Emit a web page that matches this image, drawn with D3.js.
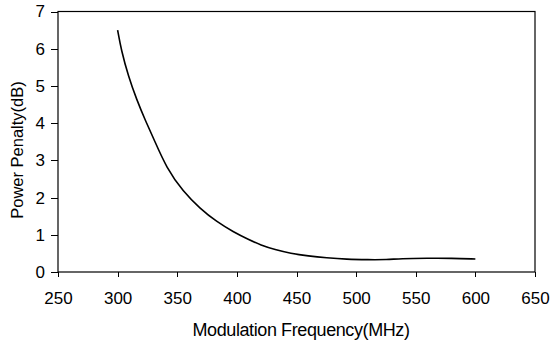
<!DOCTYPE html>
<html>
<head>
  <style>
    body { margin: 0; background: white; }
    text { font-family: "Liberation Sans", Arial, sans-serif; fill: black; }
    .axis path, .axis line { stroke: black; shape-rendering: crispEdges; }
    .curve { fill: none; stroke: black; stroke-width: 1.6; }
  </style>
  <script src="https://d3js.org/d3.v7.min.js"></script>
</head>
<body>
  <div id="chart"></div>
  <script>
    const freq = [300, 303, 309, 316, 323, 330, 341, 355, 369, 383, 397, 410, 420, 432, 445, 460, 475, 492, 510, 526, 537, 560, 580, 600];
    const penalty = [6.5, 5.97, 5.26, 4.63, 4.09, 3.6, 2.79, 2.16, 1.71, 1.35, 1.08, 0.87, 0.72, 0.6, 0.5, 0.43, 0.38, 0.34, 0.33, 0.33, 0.36, 0.37, 0.37, 0.35];
    const xTicks = [250, 300, 350, 400, 450, 500, 550, 600, 650];
    const yTicks = [0, 1, 2, 3, 4, 5, 6, 7];

    const width = 551, height = 342;
    const margin = { top: 11.5, right: 16, bottom: 70, left: 58 };
    const w = width - margin.left - margin.right;
    const h = height - margin.top - margin.bottom;

    const svg = d3.select("#chart").append("svg")
      .attr("width", width).attr("height", height);
    const g = svg.append("g")
      .attr("transform", `translate(${margin.left},${margin.top})`);

    const x = d3.scaleLinear().domain([250, 650]).range([0, w]);
    const y = d3.scaleLinear().domain([0, 7]).range([h, 0]);

    g.append("rect").attr("width", w).attr("height", h)
      .attr("fill", "none").attr("stroke", "black").attr("stroke-width", 1.2);

    g.append("g").attr("class", "axis")
      .attr("transform", `translate(0,${h})`)
      .call(d3.axisBottom(x).tickValues(xTicks).tickFormat(d3.format("d"))
        .tickSize(5).tickSizeOuter(0).tickPadding(15))
      .call(s => s.select(".domain").remove())
      .call(s => s.selectAll("text").attr("font-size", 17));

    g.append("g").attr("class", "axis")
      .call(d3.axisLeft(y).tickValues(yTicks).tickFormat(d3.format("d"))
        .tickSize(7).tickSizeOuter(0).tickPadding(6))
      .call(s => s.select(".domain").remove())
      .call(s => s.selectAll("text").attr("font-size", 17));

    const data = freq.map((f, i) => [f, penalty[i]]);
    g.append("path").datum(data).attr("class", "curve")
      .attr("d", d3.line().x(d => x(d[0])).y(d => y(d[1])).curve(d3.curveBasis));

    svg.append("text")
      .attr("x", 301).attr("y", 336)
      .attr("text-anchor", "middle").attr("font-size", 18)
      .attr("letter-spacing", -0.4)
      .text("Modulation Frequency(MHz)");

    svg.append("text")
      .attr("transform", `translate(23,150) rotate(-90)`)
      .attr("text-anchor", "middle").attr("font-size", 16.5)
      .text("Power Penalty(dB)");
  </script>
</body>
</html>
